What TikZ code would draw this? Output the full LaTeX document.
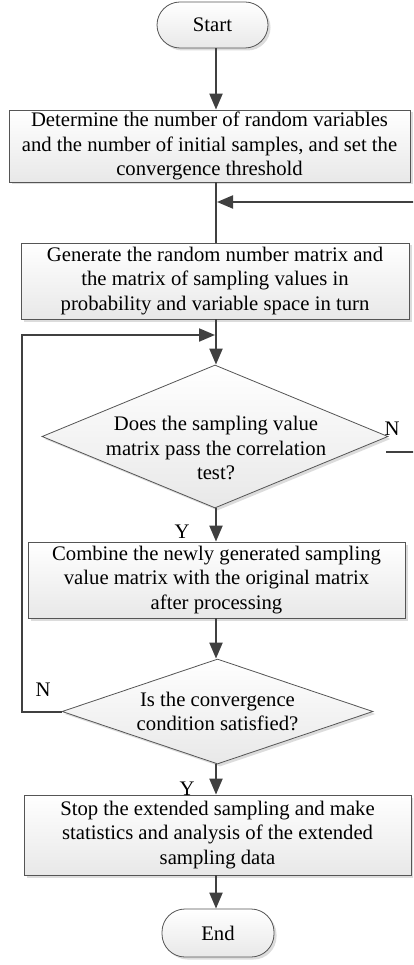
\documentclass[tikz,border=0pt]{standalone}
\usepackage{fontspec}
\setmainfont{Liberation Serif}
\usetikzlibrary{shapes.geometric,shadows,arrows.meta}
\definecolor{lc}{HTML}{404040}
\definecolor{bc}{HTML}{555555}
\tikzset{
  base/.style={draw=bc, line width=0.8pt, top color=white, bottom color=black!9, inner sep=0pt,
    drop shadow={shadow xshift=2.5pt, shadow yshift=-2.5pt, fill=black!30, opacity=0.45}},
  term/.style={base, rounded corners=23pt},
  procbox/.style={base},
  dia/.style={base, diamond},
  txt/.style={align=center, font=\fontsize{20.7}{24.5}\selectfont, inner sep=0pt},
  lbl/.style={font=\fontsize{20.7}{24.5}\selectfont, inner sep=0pt},
  arr/.style={draw=lc, line width=2pt, -{Triangle[length=16pt,width=13pt]}},
  ln/.style={draw=lc, line width=2pt},
}
\begin{document}
\begin{tikzpicture}[x=1pt,y=-1pt]
\clip (0,0) rectangle (413,965);
\fill[white] (0,0) rectangle (413,965);
\coordinate (ax) at (216,0);
% nodes
\node[term, minimum width=111pt, minimum height=46pt] (start) at (212.5,25) {};
\node[txt] at (start) {Start};
\node[procbox, minimum width=401pt, minimum height=72pt] (b1) at (209.5,146) {};
\node[txt] at (b1) {Determine the number of random variables\\and the number of initial samples, and set the\\convergence threshold};
\node[procbox, minimum width=388pt, minimum height=76pt] (b2) at (215,281) {};
\node[txt] at (b2) {Generate the random number matrix and\\the matrix of sampling values in\\probability and variable space in turn};
\node[dia, minimum width=346pt, minimum height=143pt] (d1) at (215,436.5) {};
\node[txt] (d1t) at (216,448) {Does the sampling value\\matrix pass the correlation\\test?};
\node[procbox, minimum width=377pt, minimum height=76pt] (b3) at (216.5,580) {};
\node[txt] at (b3) {Combine the newly generated sampling\\value matrix with the original matrix\\after processing};
\node[dia, minimum width=311pt, minimum height=105pt] (d2) at (217.5,711.5) {};
\node[txt] at (d2) {Is the convergence\\condition satisfied?};
\node[procbox, minimum width=387pt, minimum height=80pt] (b4) at (217.5,835) {};
\node[txt] at (b4) {Stop the extended sampling and make\\statistics and analysis of the extended\\sampling data};
\node[term, minimum width=112pt, minimum height=48pt] (end) at (218,933) {};
\node[txt] at (end) {End};
% labels
\node[lbl] (nA) at (392,429) {N};
\node[lbl] (yA) at (182,532) {Y};
\node[lbl] (nB) at (43,690) {N};
\node[lbl] (yB) at (187,789) {Y};
% connectors
\draw[arr] (start.south -| ax) -- (b1.north -| ax);
\draw[ln] (b1.south -| ax) -- (b2.north -| ax);
\draw[arr] (b2.south -| ax) -- (d1.north -| ax);
\draw[arr] (d1.south -| ax) -- (b3.north -| ax);
\draw[arr] (b3.south -| ax) -- (d2.north -| ax);
\draw[arr] (d2.south -| ax) -- (b4.north -| ax);
\draw[arr] (b4.south -| ax) -- (end.north -| ax);
% right loop (N of first decision)
\coordinate (nr1) at (386,452);
\coordinate (nr2) at (440,452);
\coordinate (nr3) at (440,202);
\coordinate (nr4) at (217,202);
\draw[arr] (nr1) -- (nr2) -- (nr3) -- (nr4);
% left loop (N of second decision)
\coordinate (nl1) at (22,711.5);
\coordinate (nl2) at (22,335);
\coordinate (nl3) at (215,335);
\draw[arr] (d2.west) -- (nl1) -- (nl2) -- (nl3);
\end{tikzpicture}
\end{document}
